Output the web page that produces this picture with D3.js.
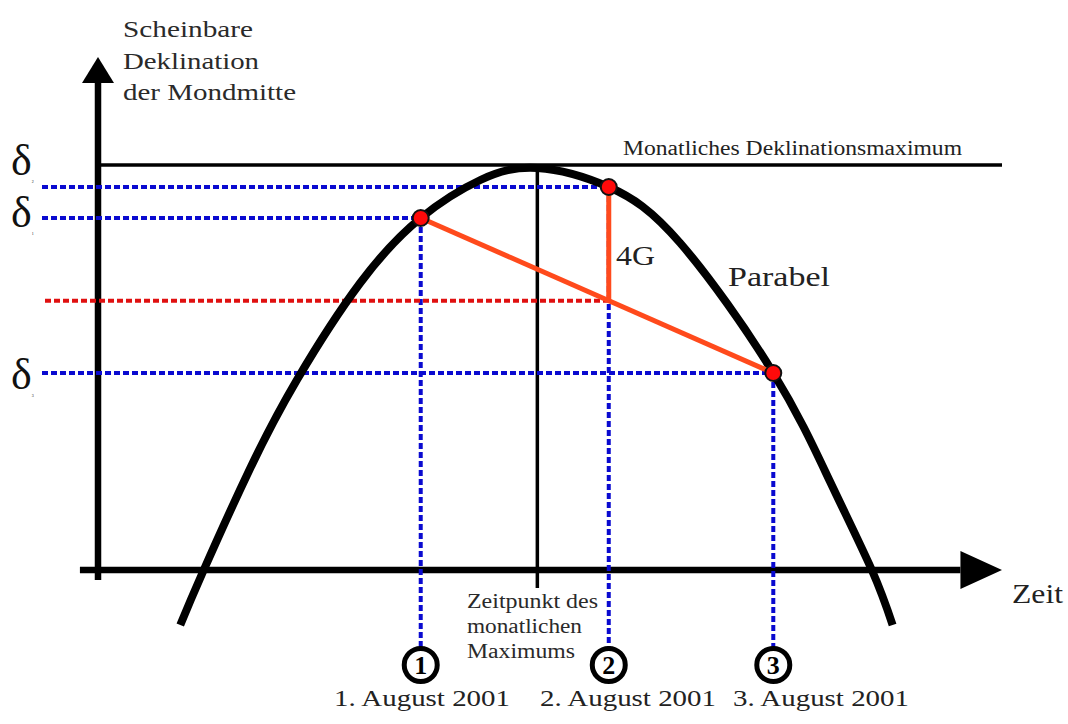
<!DOCTYPE html>
<html>
<head>
<meta charset="utf-8">
<script src="https://cdn.jsdelivr.net/npm/d3@7"></script>
<style>
  body { margin: 0; background: #fff; }
  svg text { font-family: "Liberation Serif", "Times New Roman", Times, serif; fill: #222; }
</style>
</head>
<body>
<script>
// observations (time and declination in arbitrary chart units)
const obsTime = [35.7, 56.5, 74.7];
const obsDecl = [70.4, 76.6, 39.4];
const obsNumbers = ["1", "2", "3"];
const obsDates = ["1. August 2001", "2. August 2001", "3. August 2001"];

// points read along the drawn parabola
const curveTime = [9.1, 11.6, 16.8, 22.0, 29.0, 35.7, 42.3, 48.6, 56.5, 64.4, 74.7, 81.0, 85.6, 87.9];
const curveDecl = [-11.0, -0.4, 20.2, 38.0, 57.4, 70.4, 78.0, 80.4, 76.6, 65.4, 39.4, 17.6, 0, -11.0];

const maxTime = 48.6;   // time of the monthly maximum
const maxDecl = 81.0;   // monthly declination maximum

const yTitle = ["Scheinbare", "Deklination", "der Mondmitte"];
const maxTitle = ["Zeitpunkt des", "monatlichen", "Maximums"];

const width = 1068,
  height = 724;

const svg = d3
  .select("body")
  .append("svg")
  .attr("width", width)
  .attr("height", height);

const x = d3.scaleLinear().domain([0, 100]).range([98, 1002]);
const y = d3.scaleLinear().domain([0, 100]).range([570, 70]);

const blue = "#0a0ad0",
  red = "#e01010",
  orange = "#ff4a1c";

// axes with arrow heads
svg.append("line")
  .attr("x1", x(0)).attr("x2", x(0))
  .attr("y1", y(-2)).attr("y2", y(97.4))
  .attr("stroke", "#000").attr("stroke-width", 6.5);
svg.append("path")
  .attr("d", `M${x(0)},${y(102.6)} L${x(0) - 16},${y(97.4)} L${x(0) + 16},${y(97.4)} Z`)
  .attr("fill", "#000");

svg.append("line")
  .attr("x1", x(-2)).attr("x2", x(95.4))
  .attr("y1", y(0)).attr("y2", y(0))
  .attr("stroke", "#000").attr("stroke-width", 6.5);
svg.append("path")
  .attr("d", `M${x(100)},${y(0)} L${x(95.4)},${y(0) - 19} L${x(95.4)},${y(0) + 19} Z`)
  .attr("fill", "#000");

// monthly maximum line and its time
svg.append("line")
  .attr("x1", x(0)).attr("x2", x(100))
  .attr("y1", y(maxDecl)).attr("y2", y(maxDecl))
  .attr("stroke", "#000").attr("stroke-width", 3.5);
svg.append("line")
  .attr("x1", x(maxTime)).attr("x2", x(maxTime))
  .attr("y1", y(maxDecl)).attr("y2", y(-3.6))
  .attr("stroke", "#000").attr("stroke-width", 3.5);

// dashed guide lines
const dash = "6,3";
obsTime.forEach((t, i) => {
  svg.append("line")
    .attr("x1", 42).attr("x2", x(t))
    .attr("y1", y(obsDecl[i])).attr("y2", y(obsDecl[i]))
    .attr("stroke", blue).attr("stroke-width", 4).attr("stroke-dasharray", dash);
  svg.append("line")
    .attr("x1", x(t)).attr("x2", x(t))
    .attr("y1", y(obsDecl[i])).attr("y2", 647)
    .attr("stroke", blue).attr("stroke-width", 4).attr("stroke-dasharray", dash);
});

// chord from point 1 to point 3, evaluated at time of point 2
const chordAt = d3.interpolateNumber(obsDecl[0], obsDecl[2])(
  (obsTime[1] - obsTime[0]) / (obsTime[2] - obsTime[0])
);
svg.append("line")
  .attr("x1", 45).attr("x2", x(obsTime[1]))
  .attr("y1", y(chordAt)).attr("y2", y(chordAt))
  .attr("stroke", red).attr("stroke-width", 4).attr("stroke-dasharray", dash);

// the parabola
const line = d3.line()
  .x((d) => x(d[0]))
  .y((d) => y(d[1]))
  .curve(d3.curveNatural);
svg.append("path")
  .datum(curveTime.map((t, i) => [t, curveDecl[i]]))
  .attr("d", line)
  .attr("fill", "none")
  .attr("stroke", "#000")
  .attr("stroke-width", 8)
  .attr("stroke-linecap", "butt");

// red chord and 4G segment
svg.append("line")
  .attr("x1", x(obsTime[0])).attr("y1", y(obsDecl[0]))
  .attr("x2", x(obsTime[2])).attr("y2", y(obsDecl[2]))
  .attr("stroke", orange).attr("stroke-width", 5);
svg.append("line")
  .attr("x1", x(obsTime[1])).attr("y1", y(obsDecl[1]))
  .attr("x2", x(obsTime[1])).attr("y2", y(chordAt))
  .attr("stroke", orange).attr("stroke-width", 5);

// observation points
svg.selectAll(".obs")
  .data(obsTime)
  .enter()
  .append("circle")
  .attr("class", "obs")
  .attr("cx", (d) => x(d))
  .attr("cy", (d, i) => y(obsDecl[i]))
  .attr("r", 8)
  .attr("fill", "#ff0a0a")
  .attr("stroke", "#111")
  .attr("stroke-width", 2);

// numbered circles and dates
obsTime.forEach((t, i) => {
  svg.append("circle")
    .attr("cx", x(t)).attr("cy", 665).attr("r", 16.5)
    .attr("fill", "#fff").attr("stroke", "#000").attr("stroke-width", 5);
  svg.append("text")
    .attr("x", x(t)).attr("y", 674)
    .attr("text-anchor", "middle")
    .attr("font-size", 26).attr("font-weight", "bold")
    .style("fill", "#000")
    .text(obsNumbers[i]);
});
const dateStart = [334, 540, 733];
obsDates.forEach((d, i) => {
  svg.append("text")
    .attr("x", dateStart[i]).attr("y", 706)
    .attr("font-size", 23)
    .attr("textLength", 176).attr("lengthAdjust", "spacingAndGlyphs")
    .text(d);
});

// delta labels on the left
const deltaBase = [175, 227, 389];
const deltaOrder = [1, 0, 2];
deltaOrder.forEach((k, i) => {
  const t = svg.append("text")
    .attr("x", 11).attr("y", deltaBase[i])
    .attr("font-size", 44)
    .style("fill", "#111")
    .text("δ");
  t.append("tspan")
    .attr("font-size", 4).attr("dy", 8)
    .text(obsNumbers[k]);
});

// y axis title
yTitle.forEach((s, i) => {
  svg.append("text")
    .attr("x", 123).attr("y", 37 + i * 31.5)
    .attr("font-size", 24)
    .attr("textLength", [130, 136, 173][i]).attr("lengthAdjust", "spacingAndGlyphs")
    .style("fill", "#2a2a2a")
    .text(s);
});

svg.append("text")
  .attr("x", 623).attr("y", 155)
  .attr("font-size", 20)
  .attr("textLength", 339).attr("lengthAdjust", "spacingAndGlyphs")
  .text("Monatliches Deklinationsmaximum");

maxTitle.forEach((s, i) => {
  svg.append("text")
    .attr("x", 467).attr("y", 608 + i * 25)
    .attr("font-size", 20)
    .attr("textLength", [131, 115, 108][i]).attr("lengthAdjust", "spacingAndGlyphs")
    .style("fill", "#2a2a2a")
    .text(s);
});

svg.append("text")
  .attr("x", 616).attr("y", 265)
  .attr("font-size", 27)
  .attr("textLength", 39).attr("lengthAdjust", "spacingAndGlyphs")
  .text("4G");

svg.append("text")
  .attr("x", 728).attr("y", 286)
  .attr("font-size", 28)
  .attr("textLength", 102).attr("lengthAdjust", "spacingAndGlyphs")
  .text("Parabel");

svg.append("text")
  .attr("x", 1012).attr("y", 603)
  .attr("font-size", 28)
  .attr("textLength", 51).attr("lengthAdjust", "spacingAndGlyphs")
  .text("Zeit");
</script>
</body>
</html>
